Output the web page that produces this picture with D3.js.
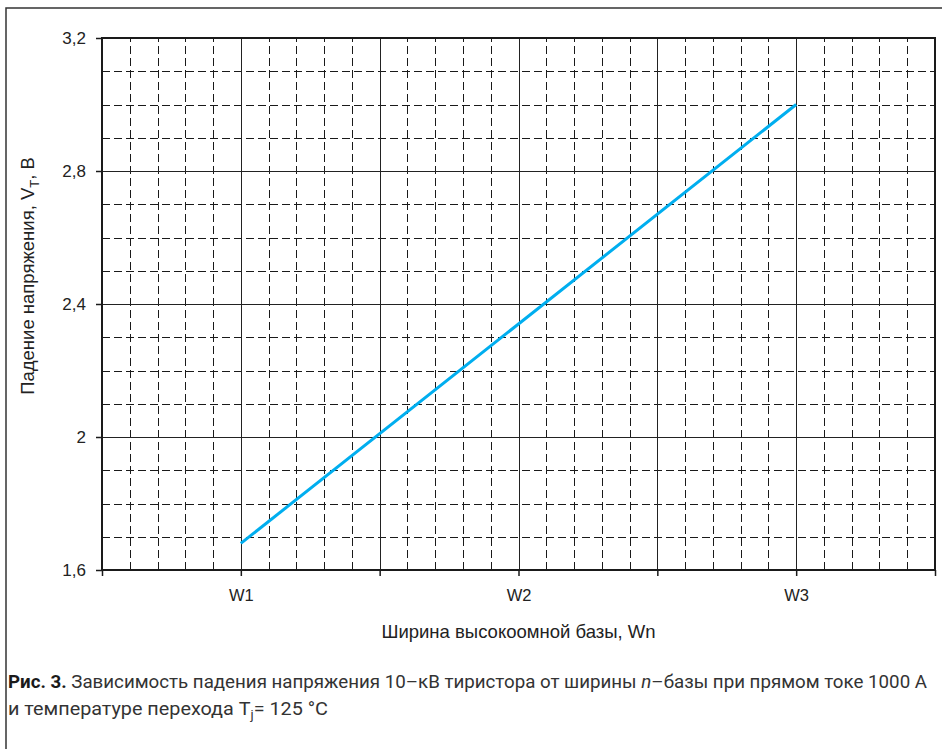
<!DOCTYPE html>
<html>
<head>
<meta charset="utf-8">
<script src="https://cdn.jsdelivr.net/npm/d3@7"></script>
<style>
  body { margin: 0; background: #fff; }
  svg { display: block; }
</style>
</head>
<body>
<div id="chart"></div>
<script>
// Data
const categories = ["W1", "W2", "W3"];
const categoryPos = [1, 3, 5];          // position on the grid (major line index)
const voltage = [1.68, 2.34, 3.0];      // V_T, В

const yTicks = [1.6, 2.0, 2.4, 2.8, 3.2];
const yTickLabels = ["1,6", "2", "2,4", "2,8", "3,2"];
const xMajor = [0, 1, 2, 3, 4, 5, 6];

const width = 942, height = 749;
const margin = { left: 102, top: 38, right: 942 - 935, bottom: 749 - 570 };

const svg = d3.select("#chart").append("svg")
  .attr("width", width)
  .attr("height", height);

// outer frame (left + top only visible)
svg.append("path")
  .attr("d", "M6,749 L6,8 L942,8")
  .attr("fill", "none")
  .attr("stroke", "#333")
  .attr("stroke-width", 1.5);

const x = d3.scaleLinear().domain([0, 6]).range([margin.left, width - margin.right]);
const y = d3.scaleLinear().domain([1.6, 3.2]).range([height - margin.bottom, margin.top]);

// snap to pixel centers so thin lines stay crisp
const px = v => Math.round(v) + 0.5;

const grid = svg.append("g").attr("shape-rendering", "crispEdges");

// minor dashed grid
const xMinor = d3.range(0, 6.001, 0.2).filter(v => Math.abs(v - Math.round(v)) > 1e-6);
const yMinor = d3.range(1.6, 3.2001, 0.1).filter(v => !yTicks.some(t => Math.abs(t - v) < 1e-6));

grid.selectAll(".vminor").data(xMinor).join("line")
  .attr("x1", d => px(x(d))).attr("x2", d => px(x(d)))
  .attr("y1", y(1.6)).attr("y2", y(3.2))
  .attr("stroke", "#1a1a1a").attr("stroke-width", 1)
  .attr("stroke-dasharray", "8,4");

grid.selectAll(".hminor").data(yMinor).join("line")
  .attr("x1", x(0)).attr("x2", x(6))
  .attr("y1", d => px(y(d))).attr("y2", d => px(y(d)))
  .attr("stroke", "#1a1a1a").attr("stroke-width", 1)
  .attr("stroke-dasharray", "8,4");

// major solid grid
grid.selectAll(".vmajor").data(xMajor).join("line")
  .attr("x1", d => px(x(d))).attr("x2", d => px(x(d)))
  .attr("y1", y(1.6)).attr("y2", y(3.2))
  .attr("stroke", "#222").attr("stroke-width", 1);

grid.selectAll(".hmajor").data(yTicks).join("line")
  .attr("x1", x(0)).attr("x2", x(6))
  .attr("y1", d => px(y(d))).attr("y2", d => px(y(d)))
  .attr("stroke", "#222").attr("stroke-width", 1);

// plot border
svg.append("rect")
  .attr("x", x(0)).attr("y", y(3.2))
  .attr("width", x(6) - x(0)).attr("height", y(1.6) - y(3.2))
  .attr("fill", "none").attr("stroke", "#1a1a1a").attr("stroke-width", 2);

// axes
const labelFont = "'Liberation Sans', Arial, sans-serif";

const yAxis = svg.append("g")
  .attr("transform", `translate(${x(0)},0)`)
  .call(d3.axisLeft(y).tickValues(yTicks).tickSize(6).tickPadding(10)
    .tickFormat((d, i) => yTickLabels[i]));
yAxis.select(".domain").remove();
yAxis.selectAll("line").attr("stroke", "#1a1a1a").attr("stroke-width", 1.5);
yAxis.selectAll("text").attr("font-family", labelFont).attr("font-size", 17).attr("fill", "#222");

const xAxis = svg.append("g")
  .attr("transform", `translate(0,${y(1.6)})`)
  .call(d3.axisBottom(x).tickValues(xMajor).tickSize(6).tickPadding(13)
    .tickFormat(d => {
      const i = categoryPos.indexOf(d);
      return i >= 0 ? categories[i] : "";
    }));
xAxis.select(".domain").remove();
xAxis.selectAll("line").attr("stroke", "#1a1a1a").attr("stroke-width", 1.5);
xAxis.selectAll("text").attr("font-family", labelFont).attr("font-size", 16.5).attr("fill", "#222");

// axis titles
svg.append("text")
  .attr("x", x(3)).attr("y", 638)
  .attr("text-anchor", "middle")
  .attr("font-family", labelFont).attr("font-size", 18.5).attr("fill", "#222")
  .text("Ширина высокоомной базы, Wn");

const yTitle = svg.append("text")
  .attr("transform", "translate(34,276) rotate(-90)")
  .attr("text-anchor", "middle")
  .attr("font-family", labelFont).attr("font-size", 18.5).attr("fill", "#222");
yTitle.append("tspan").text("Падение напряжения, V");
yTitle.append("tspan").attr("font-size", 13).attr("dy", 5).text("T");
yTitle.append("tspan").attr("dy", -5).text(", В");

// data line
const line = d3.line()
  .x((d, i) => x(categoryPos[i]))
  .y(d => y(d));

svg.append("path")
  .datum(voltage)
  .attr("d", line)
  .attr("fill", "none")
  .attr("stroke", "#00aeef")
  .attr("stroke-width", 3);

// caption
const capFont = "Roboto, 'Noto Sans', sans-serif";
const cap1 = svg.append("text")
  .attr("x", 8).attr("y", 688)
  .attr("font-family", capFont).attr("font-size", 18).attr("fill", "#333")
  .attr("textLength", 919).attr("lengthAdjust", "spacingAndGlyphs");
cap1.append("tspan").attr("font-weight", "bold").attr("fill", "#1a1a1a").text("Рис. 3.");
cap1.append("tspan").text(" Зависимость падения напряжения 10–кВ тиристора от ширины ");
cap1.append("tspan").attr("font-style", "italic").text("n");
cap1.append("tspan").text("–базы при прямом токе 1000 А");

const cap2 = svg.append("text")
  .attr("x", 8).attr("y", 715)
  .attr("font-family", capFont).attr("font-size", 18).attr("fill", "#333")
  .attr("textLength", 320).attr("lengthAdjust", "spacingAndGlyphs");
cap2.append("tspan").text("и температуре перехода T");
cap2.append("tspan").attr("font-size", 12).attr("dy", 4).text("j");
cap2.append("tspan").attr("dy", -4).text("= 125 °C");
</script>
</body>
</html>
